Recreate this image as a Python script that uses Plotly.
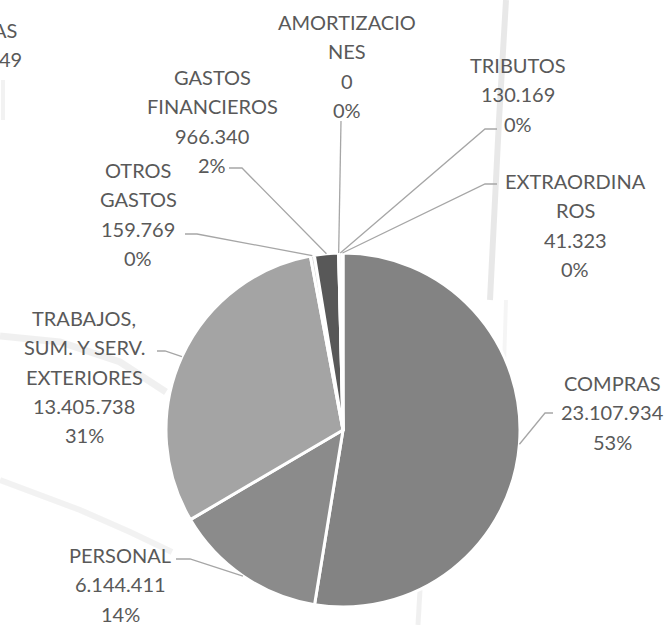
import math
import plotly.graph_objects as go

# ---------------- data ----------------
categories = ["COMPRAS", "PERSONAL", "TRABAJOS, SUM. Y SERV. EXTERIORES", "OTROS GASTOS",
              "GASTOS FINANCIEROS", "AMORTIZACIONES", "TRIBUTOS", "EXTRAORDINARIOS"]
values = [23107934, 6144411, 13405738, 159769, 966340, 0, 130169, 41323]
percent_labels = ["53%", "14%", "31%", "0%", "2%", "0%", "0%", "0%"]
label_lines = [
    ["COMPRAS"],
    ["PERSONAL"],
    ["TRABAJOS,", "SUM. Y SERV.", "EXTERIORES"],
    ["OTROS", "GASTOS"],
    ["GASTOS", "FINANCIEROS"],
    ["AMORTIZACIO", "NES"],
    ["TRIBUTOS"],
    ["EXTRAORDINA", "ROS"],
]
slice_colors = ["#838383", "#8b8b8b", "#a4a4a4", "#d9d9d9", "#585858", "#bfbfbf", "#d0d0d0", "#e0e0e0"]

# ---------------- layout constants (pixels) ----------------
W, H = 669, 625
CX, CY, R = 343, 430, 177
TEXT_COLOR = "#595959"
FONT = "Lato"
FSIZE = 20
LINE_H = 29.3

# label block: (center x, first line y)
label_pos = [
    (612, 383), (120, 555), (84, 318), (138, 170),
    (212, 77), (347, 22), (518, 65), (575, 181),
]
# leader elbow/end points for each slice
leader_pts = [
    [(545, 413), (553, 413)],
    [(190, 559), (176, 559)],
    [(165, 351), (157, 351)],
    [(197, 234), (185, 234)],
    [(242, 168), (229, 168)],
    [(341, 121)],
    [(485, 129), (497, 129)],
    [(485, 184), (497, 184)],
]


def px(x):
    return x / W


def py(y):
    return 1 - y / H


def fmt(v):
    return f"{v:,}".replace(",", ".")


def pts_path(pts):
    return "M " + " L ".join(f"{px(x):.5f},{py(y):.5f}" for x, y in pts)


fig = go.Figure()
fig.add_trace(go.Pie(
    labels=categories, values=values, sort=False, direction="clockwise", rotation=0,
    marker=dict(colors=slice_colors, line=dict(color="white", width=3)),
    textinfo="none", hoverinfo="label+value+percent", showlegend=False,
    domain=dict(x=[px(CX - R), px(CX + R)], y=[py(CY + R), py(CY - R)]),
))

total = sum(values)
annotations = []
shapes = []

# faint watermark streaks in background
streaks = [
    ([(506, 0), (499, 120), (490, 300)], 6, "rgba(0,0,0,0.09)"),
    ([(506, 300), (503, 400)], 4, "rgba(0,0,0,0.04)"),
    ([(0, 336), (60, 342), (120, 362), (166, 392)], 7, "rgba(0,0,0,0.06)"),
    ([(0, 480), (80, 510), (130, 532), (172, 552)], 6, "rgba(0,0,0,0.05)"),
    ([(420, 590), (418, 625)], 5, "rgba(0,0,0,0.06)"),
    ([(3, 80), (3, 120)], 4, "rgba(0,0,0,0.05)"),
]
for pts, wdt, col in streaks:
    shapes.append(dict(type="path", xref="paper", yref="paper", path=pts_path(pts),
                       line=dict(color=col, width=wdt), layer="below"))

cum = 0
for i, v in enumerate(values):
    frac = v / total
    mid = (cum + frac / 2) * 2 * math.pi
    cum += frac
    sx = CX + R * math.sin(mid)
    sy = CY - R * math.cos(mid)
    shapes.append(dict(type="path", xref="paper", yref="paper",
                       path=pts_path([(sx, sy)] + leader_pts[i]),
                       line=dict(color="#a6a6a6", width=1.3)))
    lines = label_lines[i] + [fmt(v), percent_labels[i]]
    lx, ly = label_pos[i]
    for k, t in enumerate(lines):
        annotations.append(dict(text=t, x=px(lx), y=py(ly + k * LINE_H), xref="paper", yref="paper",
                                xanchor="center", yanchor="middle", showarrow=False,
                                font=dict(family=FONT, size=FSIZE, color=TEXT_COLOR)))

# partial labels of a neighbouring chart cut by the left edge
for t, xr, yy in [("AS", 19, 30), ("49", 24, 59)]:
    annotations.append(dict(text=t, x=px(xr), y=py(yy), xref="paper", yref="paper",
                            xanchor="right", yanchor="middle", showarrow=False,
                            font=dict(family=FONT, size=FSIZE, color=TEXT_COLOR)))

fig.update_layout(
    width=W, height=H, margin=dict(l=0, r=0, t=0, b=0),
    paper_bgcolor="white", plot_bgcolor="white",
    annotations=annotations, shapes=shapes,
)
fig.write_html("out.html", config={"displayModeBar": False},
               post_script="document.body.style.margin='0';")
